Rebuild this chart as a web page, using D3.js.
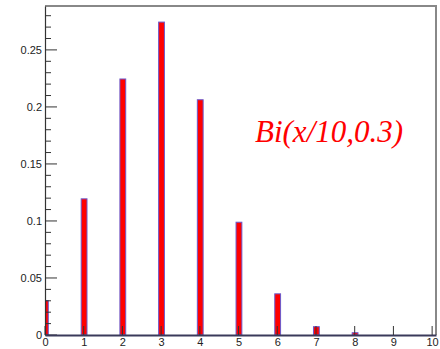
<!DOCTYPE html>
<html>
<head>
<meta charset="utf-8">
<script src="https://cdn.jsdelivr.net/npm/d3@7"></script>
<style>
  html, body { margin: 0; padding: 0; background: #fff; }
  svg { display: block; }
</style>
</head>
<body>
<svg id="chart" width="440" height="349"></svg>
<script>
const categories = [0, 1, 2, 3, 4, 5, 6, 7, 8, 9, 10];
const values = [0.0302, 0.1194, 0.2245, 0.2744, 0.2063, 0.0989, 0.0361, 0.0073, 0.0020, 0.0, 0.0];
const yTicks = [0, 0.05, 0.1, 0.15, 0.2, 0.25];
const yTickLabels = ["0", "0.05", "0.1", "0.15", "0.2", "0.25"];
const xTicks = [0, 1, 2, 3, 4, 5, 6, 7, 8, 9, 10];
const title = "Bi(x/10,0.3)";

const svg = d3.select("#chart");
const L = 45, R = 436, T = 6, B = 335;

const x = d3.scaleLinear().domain([0, 10.1]).range([L, R]);
const y = d3.scaleLinear().domain([0, 0.2885]).range([B, T]);

svg.append("defs").append("clipPath").attr("id", "clip")
  .append("rect").attr("x", L).attr("y", T).attr("width", R - L).attr("height", B - T);

// frame top & right
svg.append("path")
  .attr("d", `M${L},${T}H${R}V${B}`)
  .attr("fill", "none").attr("stroke", "#888").attr("stroke-width", 2);

// bars
const halfW = 0.075, off = 0.01;
svg.append("g").attr("clip-path", "url(#clip)")
  .selectAll("rect").data(categories.map((c, i) => ({c, v: values[i]})).filter(d => d.v > 0))
  .enter().append("rect")
  .attr("x", d => x(d.c + off - halfW))
  .attr("width", d => x(d.c + off + halfW) - x(d.c + off - halfW))
  .attr("y", d => y(d.v))
  .attr("height", d => B - y(d.v))
  .attr("fill", "#ff0000")
  .attr("stroke", "#6a5acd").attr("stroke-width", 1);

// y axis with inward ticks
const yAxis = d3.axisLeft(y).tickValues(yTicks)
  .tickFormat((d, i) => yTickLabels[i]).tickSize(0).tickPadding(3);
const gy = svg.append("g").attr("transform", `translate(${L},0)`).call(yAxis);
gy.select(".domain").attr("stroke", "#333").attr("stroke-width", 1.2);
gy.selectAll("text").attr("font-family", "Liberation Sans, Arial, sans-serif")
  .attr("font-size", 11).attr("fill", "#222");
svg.append("g").selectAll("line").data(yTicks).enter().append("line")
  .attr("x1", L).attr("x2", L + 12).attr("y1", d => y(d)).attr("y2", d => y(d))
  .attr("stroke", "#333").attr("stroke-width", 1);
const minor = d3.range(1, 29).map(i => i / 100).filter(v => Math.abs(v * 20 - Math.round(v * 20)) > 1e-6);
svg.append("g").selectAll("line").data(minor).enter().append("line")
  .attr("x1", L).attr("x2", L + 6).attr("y1", d => y(d)).attr("y2", d => y(d))
  .attr("stroke", "#333").attr("stroke-width", 1);

// x axis
const xAxis = d3.axisBottom(x).tickValues(xTicks).tickFormat(d3.format("d")).tickSize(0).tickPadding(3);
const gx = svg.append("g").attr("transform", `translate(0,${B})`).call(xAxis);
gx.select(".domain").attr("stroke", "#3a3a5a").attr("stroke-width", 2);
gx.selectAll("text").attr("font-family", "Liberation Sans, Arial, sans-serif")
  .attr("font-size", 11).attr("fill", "#222");
svg.append("g").selectAll("line").data(xTicks).enter().append("line")
  .attr("x1", d => x(d)).attr("x2", d => x(d)).attr("y1", B).attr("y2", B - 9)
  .attr("stroke", "#333").attr("stroke-width", 1);

// title label
svg.append("text")
  .attr("x", 255).attr("y", 142)
  .attr("font-family", "Liberation Serif, Times New Roman, serif")
  .attr("font-style", "italic").attr("font-size", 31)
  .attr("fill", "#ff0000").text(title);
</script>
</body>
</html>
